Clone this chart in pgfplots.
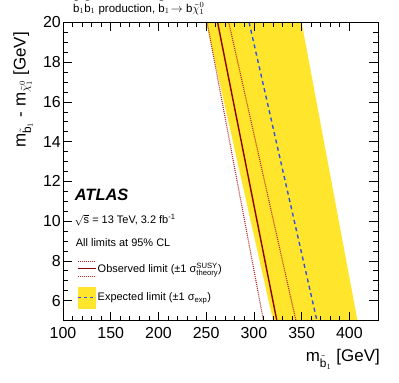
\documentclass[border=0pt]{standalone}
\usepackage{fontspec}
\setmainfont{Liberation Sans}
\usepackage{amsmath}
\usepackage{pgfplots}
\pgfplotsset{compat=1.18}
\definecolor{band}{RGB}{255,230,45}
\definecolor{obsred}{RGB}{140,0,0}
\definecolor{dotred}{RGB}{185,40,40}
\definecolor{expblue}{RGB}{50,80,225}
\begin{document}
\begin{tikzpicture}
\begin{axis}[
  scale only axis, width=315bp, height=298bp,
  xmin=100, xmax=430, ymin=5, ymax=20,
  xtick={100,150,...,400}, ytick={6,8,...,20},
  minor x tick num=4, minor y tick num=3,
  tick align=inside, major tick length=9bp, minor tick length=5bp,
  axis line style={line width=0.8bp},
  tick style={line width=0.7bp, black},
  axis on top,
  /pgf/number format/assume math mode=true,
  ticklabel style={font=\fontsize{16}{19}\selectfont},
  xticklabel style={inner sep=0pt, yshift=-7bp},
  yticklabel style={inner sep=0pt, xshift=-2bp},
  xlabel={m$_{\tilde{\text{b}}_1}$ [GeV]},
  ylabel={m$_{\tilde{\text{b}}_1}$ - m$_{\tilde{\chi}^0_1}$ [GeV]},
  every axis x label/.style={at={(rel axis cs:1,0)}, anchor=north east, inner sep=0pt, yshift=-29bp, xshift=2bp, font=\fontsize{17}{20}\selectfont},
  every axis y label/.style={at={(rel axis cs:-0.095,0.968)}, rotate=90, anchor=south east, inner sep=0pt, font=\fontsize{17}{20}\selectfont},
  title={$\tilde{\text{b}}_1\tilde{\text{b}}_1$ production, $\tilde{\text{b}}_1\!\rightarrow$ b$\tilde{\chi}^0_1$},
  title style={at={(rel axis cs:0,1)}, anchor=base west, xshift=10bp, yshift=4.5bp, inner sep=0pt, font=\fontsize{11.5}{13}\selectfont},
  legend style={at={(axis cs:114.3,8.175)}, anchor=north west, draw=none, fill=none, inner sep=0pt, row sep=7bp, column sep=0pt, font=\fontsize{11}{13}\selectfont, nodes={inner sep=1.5bp}},
  legend cell align=left,
]
\addplot[fill=band, draw=none, forget plot] coordinates {(250,20) (350,20) (408.5,5) (320,5)} -- cycle;
\addplot[dotred, line width=1.1bp, dash pattern=on 1bp off 1bp, forget plot] coordinates {(251,20) (310,5)};
\addplot[dotred, line width=1.1bp, dash pattern=on 1bp off 1bp, forget plot] coordinates {(273.7,20) (344,5)};
\addplot[obsred, line width=1.4bp,
  legend image code/.code={
    \path[draw=none,fill=none] (0,-11bp) rectangle (18bp,11bp);
    \draw[obsred,line width=1.4bp,solid] (0,0)--(18bp,0);
    \draw[dotred,line width=1bp,dash pattern=on 1bp off 1bp] (0,7.5bp)--(18bp,7.5bp);
    \draw[dotred,line width=1bp,dash pattern=on 1bp off 1bp] (0,-7.5bp)--(18bp,-7.5bp);
  }] coordinates {(262,20) (324,5)};
\addlegendentry{Observed limit (±1 σ$^{\text{SUSY}}_{\text{theory}}$)}
\addplot[expblue, line width=1.4bp, dash pattern=on 4bp off 3.5bp,
  legend image code/.code={
    \fill[band,draw=none] (0,-11bp) rectangle (18bp,11bp);
    \draw[expblue,line width=1.4bp,dash pattern=on 3.5bp off 2.5bp] (0,0)--(18bp,0);
  }] coordinates {(295,20) (366,5)};
\addlegendentry{Expected limit (±1 σ$_{\text{exp}}$)}
\node[anchor=base west, inner sep=0pt, font=\fontsize{16.5}{19}\selectfont\bfseries\itshape] at (axis cs:112.2,11.04) {ATLAS};
\node[anchor=base west, inner sep=0pt, font=\fontsize{11}{13}\selectfont] at (axis cs:112,9.87) {$\sqrt{\text{s}}$ = 13 TeV, 3.2 fb$^{\text{-1}}$};
\node[anchor=base west, inner sep=0pt, font=\fontsize{11}{13}\selectfont] at (axis cs:113.3,8.71) {All limits at 95\% CL};
\end{axis}
\path ([shift={(-63bp,-62bp)}]current axis.south west) rectangle ([shift={(21bp,22.5bp)}]current axis.north east);
\end{tikzpicture}
\end{document}
